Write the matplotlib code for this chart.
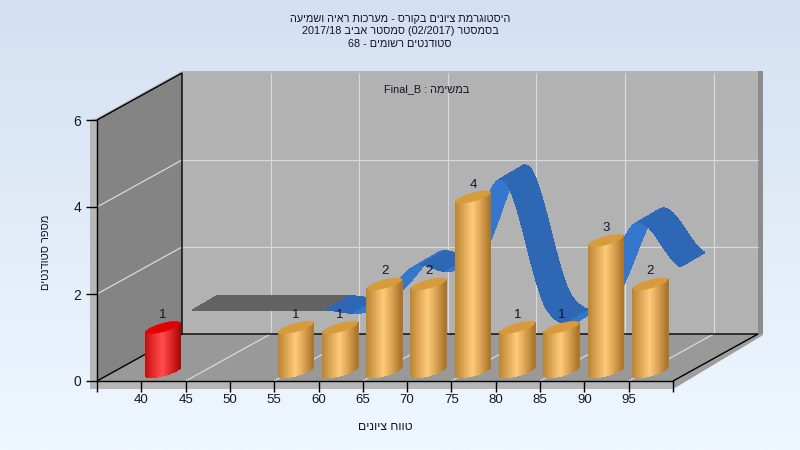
import re
import numpy as np
import matplotlib
matplotlib.use("Agg")
import matplotlib.pyplot as plt
from matplotlib.collections import PolyCollection
from matplotlib.colors import LinearSegmentedColormap

title_lines = ["היסטוגרמת ציונים בקורס - מערכות ראיה ושמיעה",
               "בסמסטר (02/2017) סמסטר אביב 2017/18",
               "סטודנטים רשומים - 68"]
task_label = "במשימה : Final_B"
x_label = "טווח ציונים"
y_label = "מספר סטודנטים"

bin_starts = [40, 45, 50, 55, 60, 65, 70, 75, 80, 85, 90, 95]
bar_counts = [1, 0, 0, 1, 1, 2, 2, 4, 1, 1, 3, 2]
highlight_bins = [40]
ribbon_values = [0, 0, 0, 0, 0, 1, 1, 3, 0, 0, 2, 1]
x_ticks = [35, 40, 45, 50, 55, 60, 65, 70, 75, 80, 85, 90, 95, 100]
x_tick_labels = ["", "40", "45", "50", "55", "60", "65", "70", "75", "80", "85", "90", "95", ""]
y_ticks = [0, 2, 4, 6]

FONT = "Liberation Sans"
TXT = "#14142c"


def visual(s):
    """matplotlib has no bidi: turn logical right-to-left text into display order."""
    r = s[::-1].translate(str.maketrans("()", ")("))
    return re.sub(r"[0-9A-Za-z_/]+", lambda m: m.group(0)[::-1], r)


PX_X = 576 / 65
PX_Y = 261 / 6
fig = plt.figure(figsize=(8, 4.5), dpi=100)

bg = fig.add_axes([0, 0, 1, 1], zorder=0)
bg.axis("off")
cmap_bg = LinearSegmentedColormap.from_list("bg", ["#d4e0f2", "#e2ecf8", "#eff7ff"])
bg.imshow(np.linspace(0, 1, 256)[:, None], aspect="auto", cmap=cmap_bg, extent=(0, 1, 0, 1))

ax = fig.add_axes([97 / 800, 69 / 450, 576 / 800, 261 / 450], zorder=1)
ax.set_xlim(35, 100)
ax.set_ylim(0, 6)
ax.patch.set_visible(False)


def dx(p):
    return p / PX_X


def dy(p):
    return p / PX_Y


DX, DY = dx(85), dy(47)
L, R, T = 35, 100, 6


def poly(pts, color, z=1):
    ax.fill(*zip(*pts), color=color, lw=0, clip_on=False, zorder=z)


def line(xs, ys, color="black", lw=1.0, z=2):
    ax.plot(xs, ys, color=color, lw=lw, clip_on=False, zorder=z, solid_capstyle="butt")


# outer frame strips
poly([(L - dx(7), T), (L, T + dy(2)), (L + DX, T + DY + dy(2)), (R + DX + dx(5), T + DY + dy(2)),
      (R + DX + dx(5), DY - dy(1)), (R, -dy(8)), (L - dx(7), -dy(8))], "#b6b6b6", 0.5)
poly([(R, 0), (R + DX, DY), (R + DX + dx(5), DY), (R + DX + dx(5), T + DY + dy(2)), (R + DX, T + DY + dy(2)),
      (R + DX, DY)], "#8c8c8c", 0.6)
poly([(R, 0), (R + DX, DY), (R + DX + dx(5), DY - dy(1)), (R, -dy(8))], "#9e9e9e", 0.6)

# walls
poly([(L + DX, DY), (R + DX, DY), (R + DX, T + DY), (L + DX, T + DY)], "#b2b2b2")
poly([(L, 0), (L + DX, DY), (L + DX, T + DY), (L, T)], "#848484")
poly([(L, 0), (R, 0), (R + DX, DY), (L + DX, DY)], "#999999")

# grid
GRID = "#d9d9d9"
for v in x_ticks[2:-1:2]:
    line([v, v + DX], [0, DY], GRID, 0.9, 1.2)
    line([v + DX, v + DX], [DY, T + DY], GRID, 0.9, 1.2)
for v in y_ticks[1:-1]:
    line([L, L + DX], [v, v + DY], GRID, 0.9, 1.2)
    line([L + DX, R + DX], [v + DY, v + DY], GRID, 0.9, 1.2)

# black frame
line([L, L + DX, L + DX, R + DX, R], [T, T + DY, DY, DY, 0], z=1.5)
line([L, L + DX], [0, DY], z=1.5)

# ribbon (Catmull-Rom through the series)
RX0, RY0 = dx(193 - 97) + L - bin_starts[0], dy(381 - 310)
RDX, RDY = dx(24), dy(14)
vals = np.array(ribbon_values, float)
pad = np.r_[vals[0], vals, vals[-1]]
quads, cols = [], []
for i in range(len(vals) - 1):
    p0, p1, p2, p3 = pad[i:i + 4]
    t = np.linspace(0, 1, 15)
    c = 0.5 * (2 * p1 + (p2 - p0) * t + (2 * p0 - 5 * p1 + 4 * p2 - p3) * t ** 2 + (3 * p1 - p0 - 3 * p2 + p3) * t ** 3)
    xs = bin_starts[i] + t * (bin_starts[i + 1] - bin_starts[i]) + RX0
    ys = c + RY0
    flat = p0 == p1 == p2 == p3
    for j in range(len(t) - 1):
        quads.append([(xs[j], ys[j]), (xs[j + 1], ys[j + 1]),
                      (xs[j + 1] + RDX, ys[j + 1] + RDY), (xs[j] + RDX, ys[j] + RDY)])
        cols.append("#636363" if flat else ("#3577cd" if ys[j + 1] > ys[j] else "#2e68b4"))
ax.add_collection(PolyCollection(quads, facecolors=cols, edgecolors=cols, linewidths=0.5,
                                 antialiaseds=False, clip_on=False, zorder=3))

# cylinders
A, S, B = 17.5, 4.5 / 17.5, 4.5
BASE = dy(10)
orange = LinearSegmentedColormap.from_list("o", ["#b98532", "#dca655", "#fdca7a", "#d9a252", "#a9752c"])
red = LinearSegmentedColormap.from_list("r", ["#c40d0d", "#e83030", "#ff4c4c", "#dc2626", "#a80808"])
for start, count in zip(bin_starts, bar_counts):
    if count == 0:
        continue
    hi = start in highlight_bins
    cmap = red if hi else orange
    cx = start + 2.5 - dx(0.5)
    k = np.linspace(-1, 1, 36)
    strips, sc = [], []
    for a, b in zip(k[:-1], k[1:]):
        def bot(u):
            return BASE + dy(S * A * u) - dy(B) * np.sqrt(max(0, 1 - u * u))

        strips.append([(cx + dx(A * a), bot(a)), (cx + dx(A * b), bot(b)),
                       (cx + dx(A * b), BASE + count + dy(S * A * b)), (cx + dx(A * a), BASE + count + dy(S * A * a))])
        sc.append(cmap((a + b + 2) / 4))
    ax.add_collection(PolyCollection(strips, facecolors=sc, edgecolors=sc, linewidths=0.5,
                                     antialiaseds=False, clip_on=False, zorder=4))
    th = np.linspace(0, 2 * np.pi, 80)
    ax.fill(cx + dx(A * np.cos(th)), BASE + count + dy(S * A * np.cos(th) + B * np.sin(th)),
            color="#e00202" if hi else "#d89b3c", lw=0, clip_on=False, zorder=5)
    ax.text(cx, BASE + count + dy(12.5), str(count), ha="center", va="center", fontsize=9.5,
            family=FONT, color=TXT, zorder=6)

# axes
for s in ("top", "right"):
    ax.spines[s].set_visible(False)
for s in ("bottom", "left"):
    ax.spines[s].set_linewidth(1.0)
ax.set_xticks(x_ticks)
ax.set_xticklabels(x_tick_labels, family=FONT, fontsize=9.5, color=TXT)
ax.set_yticks(y_ticks)
ax.set_yticklabels([str(v) for v in y_ticks], family=FONT, fontsize=10, color=TXT)
ax.tick_params(axis="x", length=8, width=1.0, pad=1.5)
ax.tick_params(axis="y", length=8, width=1.0, pad=3.5)

# text
for line_text, y in zip(title_lines, [19.5, 31.5, 44]):
    fig.text(0.5, 1 - y / 450, visual(line_text), ha="center", va="center", family=FONT, fontsize=7.8, color=TXT, zorder=5)
fig.text(427 / 800, 1 - 89 / 450, visual(task_label), ha="center", va="center", family=FONT, fontsize=7.8, color=TXT, zorder=5)
fig.text(385 / 800, 1 - 426.5 / 450, visual(x_label), ha="center", va="center", family=FONT, fontsize=8.8, color=TXT, zorder=5)
fig.text(46 / 800, 1 - 252 / 450, visual(y_label), ha="center", va="center", rotation=90, family=FONT, fontsize=7.9, color=TXT, zorder=5)

fig.savefig("out.png", dpi=100)
